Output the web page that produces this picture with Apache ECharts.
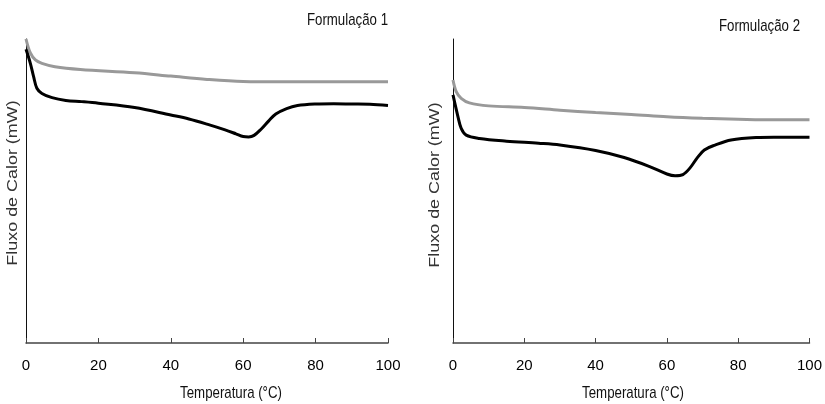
<!DOCTYPE html>
<html>
<head>
<meta charset="utf-8">
<title>Fluxo de Calor – Formulações 1 e 2</title>
<script src="https://cdn.jsdelivr.net/npm/echarts@6/dist/echarts.min.js"></script>
<style>
  html, body { margin: 0; padding: 0; background: #ffffff; }
  #chart { width: 825px; height: 404px; }
</style>
</head>
<body>
<div id="chart"></div>
<script>
// Temperature axis ticks (°C)
const xTicks = [0, 20, 40, 60, 80, 100];

// Formulação 1 – upper (grey) DSC trace, relative heat flow
const f1UpperTemp = [0, 1.2, 2.6, 4.4, 8, 15, 30, 40, 50, 60, 70, 80, 100];
const f1UpperFlow = [100, 95.4, 93.1, 92.0, 90.9, 90.0, 88.9, 87.8, 86.7, 86.0, 85.9, 85.9, 85.9];

// Formulação 1 – lower (black) DSC trace with melting endotherm near 61 °C
const f1LowerTemp = [0, 1.2, 2.1, 3, 4.4, 7.2, 11, 15.4, 20, 30, 40, 45, 50, 55, 58, 60, 61.5, 63, 65, 67, 69, 72, 75, 80, 85, 90, 95, 100];
const f1LowerFlow = [96.6, 92.0, 87.6, 83.8, 82.1, 80.7, 79.8, 79.4, 78.9, 77.5, 75.0, 73.7, 72.0, 70.1, 68.8, 67.9, 67.8, 68.3, 70.4, 73.0, 75.3, 77.1, 78.1, 78.6, 78.7, 78.6, 78.5, 78.1];

// Formulação 2 – upper (grey) DSC trace
const f2UpperTemp = [0, 0.9, 2.3, 4.6, 10, 20, 30, 40, 50, 60, 70, 80, 90, 100];
const f2UpperFlow = [86.5, 82.7, 80.5, 79.0, 78.0, 77.5, 76.6, 75.8, 75.2, 74.4, 73.9, 73.6, 73.4, 73.4];

// Formulação 2 – lower (black) DSC trace with melting endotherm near 62 °C
const f2LowerTemp = [0, 1.4, 2.3, 3.7, 7.4, 15, 24, 30, 40, 48, 55, 60, 62.3, 64.5, 66.5, 68.5, 70.5, 73.5, 78, 85, 90, 100];
const f2LowerFlow = [81.6, 74.4, 70.6, 68.4, 67.3, 66.4, 65.7, 65.1, 63.3, 61.0, 58.1, 55.6, 55.0, 55.4, 57.6, 60.9, 63.5, 65.1, 66.8, 67.6, 67.7, 67.7];

const pair = (xs, ys) => xs.map((x, i) => [x, ys[i]]);

const SANS = "'Liberation Sans', Arial, sans-serif";
const NARROW = "'Liberation Sans Narrow', 'Arial Narrow', 'Liberation Sans', Arial, sans-serif";

function xAxisFor(gridIndex) {
  return {
    type: 'value', gridIndex, min: xTicks[0], max: xTicks[xTicks.length - 1], interval: xTicks[1] - xTicks[0],
    axisLine: { show: true, onZero: false, lineStyle: { color: '#444', width: 1.5 } },
    axisTick: { show: true, inside: true, length: 5, lineStyle: { color: '#444', width: 1 } },
    axisLabel: { color: '#000', fontFamily: NARROW, fontSize: 15, margin: 15 },
    splitLine: { show: false }
  };
}
function yAxisFor(gridIndex) {
  return {
    type: 'value', gridIndex, min: 0, max: 100,
    axisLine: { show: true, onZero: false, lineStyle: { color: '#111', width: 1 } },
    axisTick: { show: false }, axisLabel: { show: false }, splitLine: { show: false }
  };
}
function trace(name, idx, data, color) {
  return {
    name, type: 'line', xAxisIndex: idx, yAxisIndex: idx, data,
    showSymbol: false, smooth: 0.35,
    lineStyle: { color, width: 3 }, z: color === '#000' ? 3 : 2
  };
}
function hText(text, x, y, align) {
  return {
    type: 'text', x, y, silent: true, scaleX: 0.78,
    style: { text, fill: '#111', font: '17px ' + SANS, align, verticalAlign: 'middle' }
  };
}
function vText(text, x, y) {
  return {
    type: 'text', x, y, silent: true, rotation: Math.PI / 2, scaleX: 1.28,
    style: { text, fill: '#333', font: '14px ' + SANS, align: 'center', verticalAlign: 'middle' }
  };
}

const chart = echarts.init(document.getElementById('chart'), null, { renderer: 'canvas' });
chart.setOption({
  animation: false,
  backgroundColor: '#ffffff',
  grid: [
    { left: 26, right: 437, top: 39, bottom: 61 },
    { left: 453, right: 11, top: 39, bottom: 61 }
  ],
  xAxis: [xAxisFor(0), xAxisFor(1)],
  yAxis: [yAxisFor(0), yAxisFor(1)],
  series: [
    trace('F1 superior', 0, pair(f1UpperTemp, f1UpperFlow), '#999'),
    trace('F1 inferior', 0, pair(f1LowerTemp, f1LowerFlow), '#000'),
    trace('F2 superior', 1, pair(f2UpperTemp, f2UpperFlow), '#999'),
    trace('F2 inferior', 1, pair(f2LowerTemp, f2LowerFlow), '#000')
  ],
  graphic: [
    hText('Formulação 1', 388, 20, 'right'),
    hText('Formulação 2', 800, 26, 'right'),
    hText('Temperatura (°C)', 231, 393, 'center'),
    hText('Temperatura (°C)', 633, 393, 'center'),
    vText('Fluxo de Calor (mW)', 13, 183),
    vText('Fluxo de Calor (mW)', 435, 185)
  ]
});
</script>
</body>
</html>
